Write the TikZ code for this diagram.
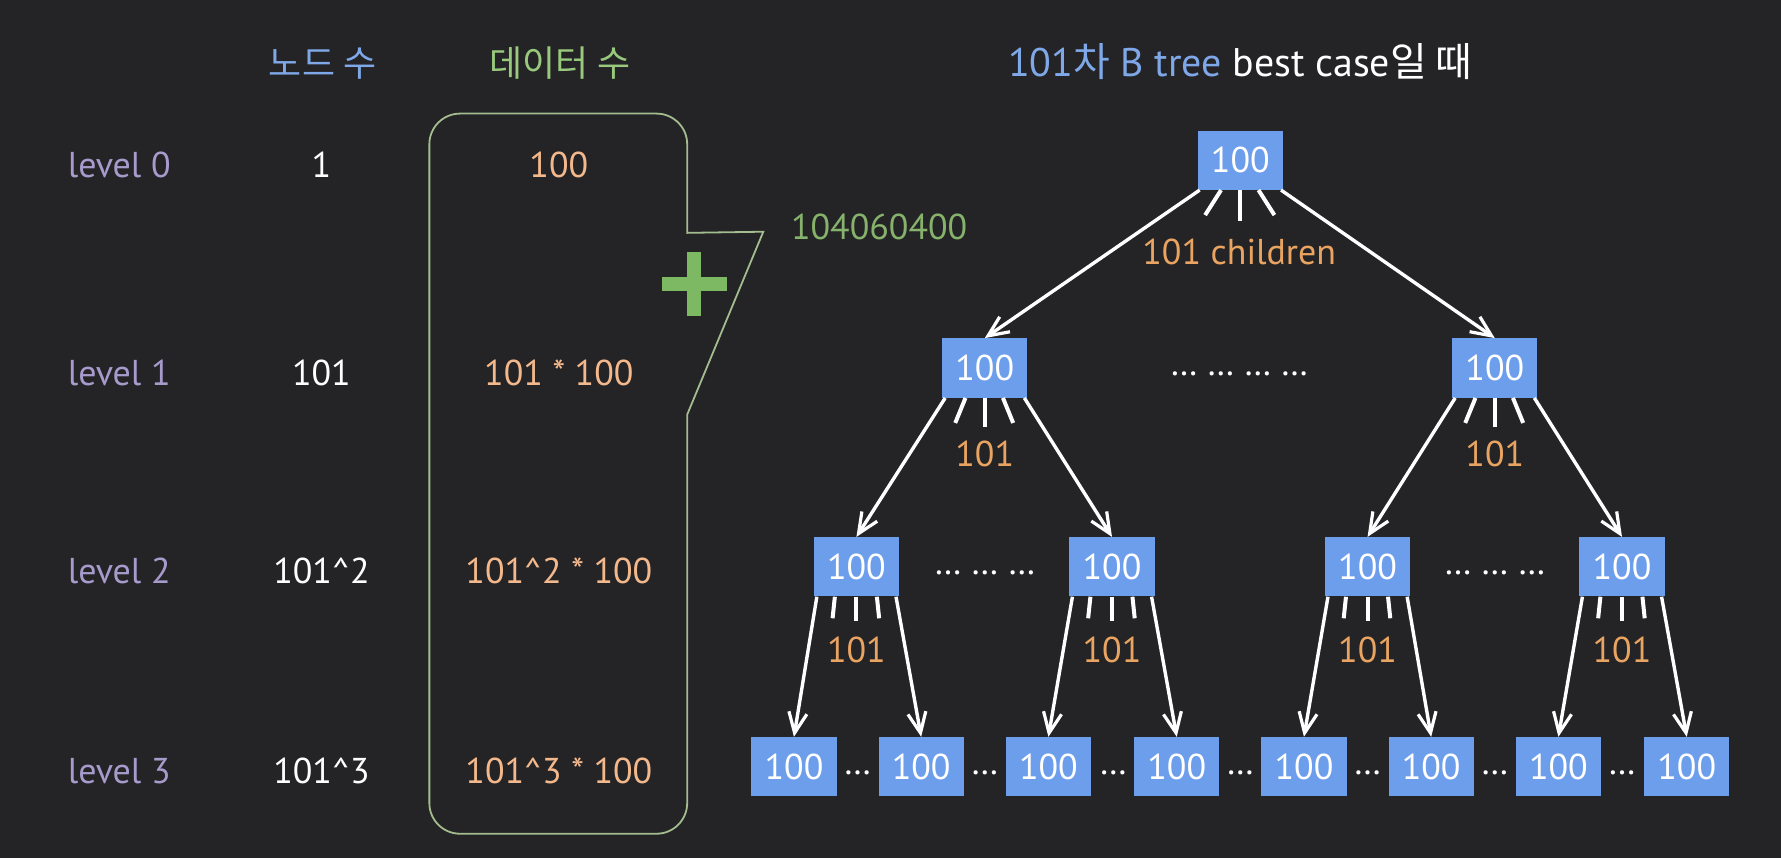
\documentclass[tikz,border=0pt]{standalone}
\usepackage{fontspec}
\setmainfont{PT Sans}
\newfontfamily\krfont{Noto Sans CJK KR}
\usetikzlibrary{arrows.meta}
\usetikzlibrary{positioning,calc}
\usepackage{xcolor}
\definecolor{bg}{HTML}{242326}
\definecolor{boxblue}{HTML}{6D9EEB}
\definecolor{hdblue}{HTML}{7FA8E8}
\definecolor{hdgreen}{HTML}{98C97C}
\definecolor{sumgreen}{HTML}{86B26C}
\definecolor{plusgreen}{HTML}{7DB862}
\definecolor{lvl}{HTML}{A79BCC}
\definecolor{peach}{HTML}{F3B98C}
\definecolor{kidorange}{HTML}{E9A462}
\definecolor{outline}{HTML}{A4BD8F}
\tikzset{
    bnode/.style={
        fill=boxblue,
        minimum width=1.5cm,
        minimum height=1.04cm,
        inner sep=0pt,
        text=white
    },
    txt/.style={
        inner sep=0pt,
        anchor=base
    },
    arr/.style={
        draw=white,
        line width=1.7pt,
        -{Straight Barb[length=3.6mm, width=3.2mm, line width=1.6pt]}
    },
    fan/.style={
        draw=white,
        line width=2pt
    },
    gbox/.style={
        draw=outline,
        line width=0.9pt
    }
}

\begin{document}
\begin{tikzpicture}[x=0.02cm, y=-0.02cm,
    every node/.style={font=\fontsize{18}{21}\selectfont}]
    % Background
    \fill[bg] (0,0) rectangle (1568,755);
    \useasboundingbox (0,0) rectangle (1568,755);

    % Headers
    \node[txt, text=hdblue] (hnodes) at (284,67) {\krfont 노드 수};
    \node[txt, text=hdgreen] (hdata) at (493,67) {\krfont 데이터 수};
    \node[txt, text=white, font=\fontsize{20}{24}\selectfont] (title) at (1092,67)
        {{\color{hdblue}101{\krfont 차} B tree} best case{\krfont 일 때}};

    % Levels
    \foreach \i/\y/\n/\d in {0/156/1/100,
        1/339/101/101 * 100,
        2/514/101\textasciicircum 2/101\textasciicircum 2 * 100,
        3/690/101\textasciicircum 3/101\textasciicircum 3 * 100}{
        \node[txt, text=lvl] (lv\i) at (105,\y) {level \i};
        \node[txt, text=white] (nc\i) at (283,\y) {\n};
        \node[txt, text=peach] (dc\i) at (492,\y) {\d};
    }

    % Sum bracket
    \draw[gbox, rounded corners=0.54cm] (378,400) -- (378,100) -- (605,100)
        [sharp corners] -- (605,205) -- (672,204) -- (605,365)
        [rounded corners=0.54cm] -- (605,734) -- (378,734) -- cycle;
    \fill[plusgreen] (583,244) rectangle (640,256);
    \fill[plusgreen] (605,222) rectangle (617,278);
    \node[txt, text=sumgreen] (sum) at (774,211) {104060400};

    % Tree
    \node[bnode] (root) at (1092,141) {100};
    \node[bnode] (a1) at (867,324) {100};
    \node[bnode] (a2) at (1316,324) {100};
    \foreach \i/\x in {1/754,2/979,3/1204,4/1428}
        \node[bnode] (b\i) at (\x,499) {100};
    \foreach \i/\x in {1/699,2/811,3/923,4/1036,5/1148,6/1260,7/1372,8/1485}
        \node[bnode] (c\i) at (\x,675) {100};

    % Dots
    \node[txt, text=white] (d1) at (1091,331) {… … … …};
    \node[txt, text=white] (d2) at (867,506) {… … …};
    \node[txt, text=white] (d3) at (1316,506) {… … …};
    \foreach \i/\x in {1/755,2/867,3/980,4/1092,5/1204,6/1316,7/1428}
        \node[txt, text=white] (e\i) at (\x,682) {…};

    % Edges
    \draw[arr] ($(root.south west)+(2,0)$) -- (a1.north);
    \draw[arr] ($(root.south east)+(-2,0)$) -- (a2.north);
    \foreach \p/\l/\r in {a1/b1/b2, a2/b3/b4, b1/c1/c2, b2/c3/c4, b3/c5/c6, b4/c7/c8}{
        \draw[arr] ($(\p.south west)+(3,0)$) -- (\l.north);
        \draw[arr] ($(\p.south east)+(-3,0)$) -- (\r.north);
    }

    % Fans
    \draw[fan] ($(root.south)+(-17,0)$) -- ++(-14,22);
    \draw[fan] (root.south) -- ++(0,27);
    \draw[fan] ($(root.south)+(16,0)$) -- ++(14,22);
    \foreach \p in {a1,a2}{
        \draw[fan] ($(\p.south)+(-17,0)$) -- ++(-9,22);
        \draw[fan] (\p.south) -- ++(0,26);
        \draw[fan] ($(\p.south)+(16,0)$) -- ++(9,22);
    }
    \foreach \p in {b1,b2,b3,b4}{
        \draw[fan] ($(\p.south)+(-19,0)$) -- ++(-2,19);
        \draw[fan] (\p.south) -- ++(0,21);
        \draw[fan] ($(\p.south)+(18,0)$) -- ++(2,19);
    }

    % Child counts
    \node[txt, text=kidorange] (kids) at (1091,233) {101 children};
    \foreach \p/\x in {a1/867,a2/1316}
        \node[txt, text=kidorange] (k\p) at (\x,411) {101};
    \foreach \p/\x in {b1/754,b2/979,b3/1204,b4/1428}
        \node[txt, text=kidorange] (k\p) at (\x,583) {101};
\end{tikzpicture}
\end{document}
